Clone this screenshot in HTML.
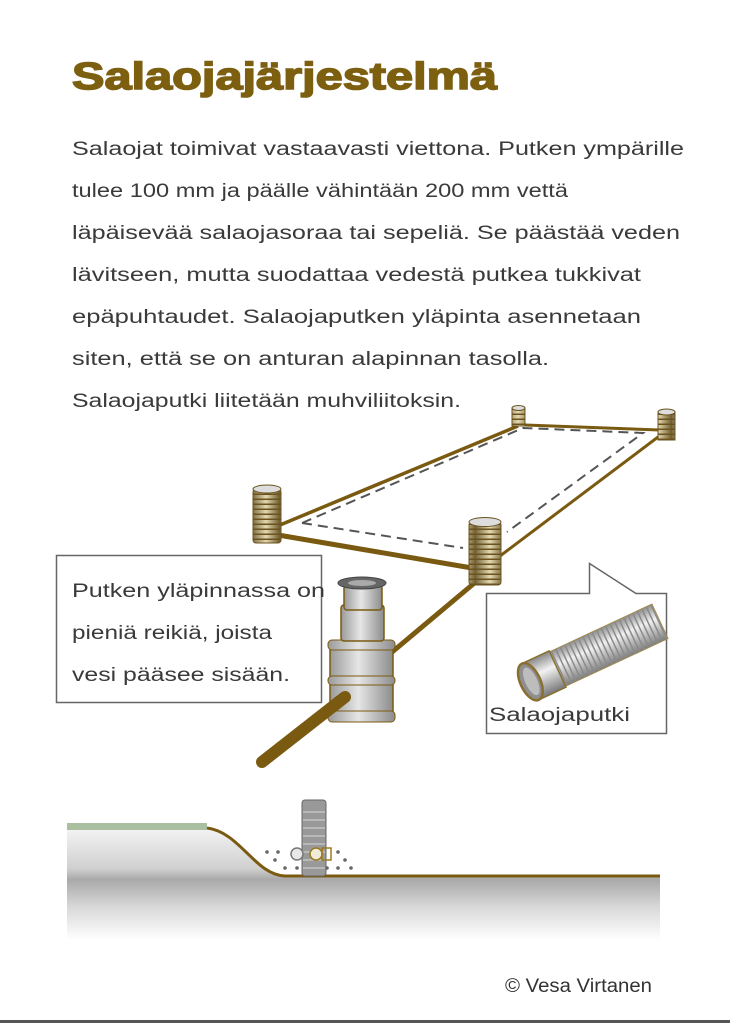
<!DOCTYPE html>
<html><head><meta charset="utf-8"><style>
html,body{margin:0;padding:0;background:#fff;width:730px;height:1023px;overflow:hidden}
svg{display:block}
.b{font-family:"Liberation Sans",sans-serif;font-size:19px;fill:#3a3a3a}
</style></head><body>
<svg width="730" height="1023" viewBox="0 0 730 1023" xmlns="http://www.w3.org/2000/svg">
<defs>
<linearGradient id="gnd" x1="0" y1="0" x2="0" y2="1">
<stop offset="0" stop-color="#f2f2f2"/><stop offset="0.35" stop-color="#d0d0d0"/><stop offset="0.45" stop-color="#a9a9a9"/><stop offset="0.7" stop-color="#d8d8d8"/><stop offset="1" stop-color="#fff"/>
</linearGradient>
<linearGradient id="cyl" x1="0" y1="0" x2="1" y2="0">
<stop offset="0" stop-color="#9a9a9a"/><stop offset="0.45" stop-color="#e6e6e6"/><stop offset="1" stop-color="#8c8c8c"/>
</linearGradient>
<linearGradient id="pip" x1="0" y1="0" x2="1" y2="0">
<stop offset="0" stop-color="#7a6a40"/><stop offset="0.5" stop-color="#e3d8b0"/><stop offset="1" stop-color="#6d5b2a"/>
</linearGradient>
<linearGradient id="sil" x1="0" y1="0" x2="0" y2="1">
<stop offset="0" stop-color="#888"/><stop offset="0.4" stop-color="#f2f2f2"/><stop offset="1" stop-color="#777"/>
</linearGradient>
<pattern id="rib" width="28" height="5" patternUnits="userSpaceOnUse"><rect width="28" height="5" fill="url(#pip)"/><rect y="3.5" width="28" height="1.5" fill="#6b5320"/></pattern>
<pattern id="rib2" width="5" height="40" x="0" y="-20" patternUnits="userSpaceOnUse"><rect width="5" height="40" fill="url(#sil)"/><rect x="3" width="1.5" height="40" fill="#8a8a8a"/></pattern>
</defs>

<text x="72" y="89" font-family="Liberation Sans,sans-serif" font-weight="bold" font-size="38" fill="#7d5f10" textLength="425" lengthAdjust="spacingAndGlyphs" stroke="#7d5f10" stroke-width="1.5">Salaojajärjestelmä</text>

<text class="b" x="72" y="155" textLength="612" lengthAdjust="spacingAndGlyphs">Salaojat toimivat vastaavasti viettona. Putken ympärille</text>
<text class="b" x="72" y="197" textLength="496" lengthAdjust="spacingAndGlyphs">tulee 100 mm ja päälle vähintään 200 mm vettä</text>
<text class="b" x="72" y="239" textLength="608" lengthAdjust="spacingAndGlyphs">läpäisevää salaojasoraa tai sepeliä. Se päästää veden</text>
<text class="b" x="72" y="281" textLength="569" lengthAdjust="spacingAndGlyphs">lävitseen, mutta suodattaa vedestä putkea tukkivat</text>
<text class="b" x="72" y="323" textLength="569" lengthAdjust="spacingAndGlyphs">epäpuhtaudet. Salaojaputken yläpinta asennetaan</text>
<text class="b" x="72" y="365" textLength="477" lengthAdjust="spacingAndGlyphs">siten, että  se on anturan alapinnan tasolla.</text>
<text class="b" x="72" y="407" textLength="389" lengthAdjust="spacingAndGlyphs">Salaojaputki liitetään muhviliitoksin.</text>

<g stroke="#7a5a10" fill="none">
<line x1="280" y1="525" x2="518" y2="426" stroke-width="3.5"/>
<line x1="525" y1="425" x2="660" y2="430" stroke-width="3"/>
<line x1="662" y1="434" x2="500" y2="556" stroke-width="3"/>
<line x1="278" y1="535" x2="472" y2="568" stroke-width="5"/>
<line x1="478" y1="580" x2="385" y2="658" stroke-width="5"/>
</g>
<polyline points="302,523 523,428 643,433 507,532" fill="none" stroke="#555" stroke-width="2" stroke-dasharray="10,6"/>
<line x1="302" y1="523" x2="463" y2="548" stroke="#555" stroke-width="2" stroke-dasharray="10,6"/>

<rect x="512" y="408" width="13" height="18" fill="url(#rib)" stroke="#6b5320"/>
<ellipse cx="518.5" cy="408" rx="6.5" ry="2.5" fill="#ddd" stroke="#6b5320"/>
<rect x="658" y="412" width="17" height="28" fill="url(#rib)" stroke="#6b5320"/>
<ellipse cx="666.5" cy="412" rx="8.5" ry="3" fill="#ddd" stroke="#6b5320"/>
<rect x="253" y="489" width="28" height="54" fill="url(#rib)" stroke="#6b5320" rx="3"/>
<ellipse cx="267" cy="489" rx="14" ry="4" fill="#ddd" stroke="#6b5320"/>
<rect x="469" y="522" width="32" height="63" fill="url(#rib)" stroke="#6b5320" rx="3"/>
<ellipse cx="485" cy="522" rx="16" ry="4.5" fill="#ddd" stroke="#6b5320"/>

<rect x="56.5" y="555.5" width="265" height="147" fill="#fff" stroke="#666" stroke-width="1.5"/>
<text class="b" x="72" y="597" textLength="253" lengthAdjust="spacingAndGlyphs">Putken yläpinnassa on</text>
<text class="b" x="72" y="639" textLength="200" lengthAdjust="spacingAndGlyphs">pieniä reikiä, joista</text>
<text class="b" x="72" y="681" textLength="218" lengthAdjust="spacingAndGlyphs">vesi pääsee sisään.</text>

<rect x="330" y="643" width="63" height="78" fill="url(#cyl)" stroke="#7a5a10" stroke-width="1.5" rx="4"/>
<rect x="328" y="640" width="67" height="10" fill="url(#cyl)" stroke="#7a5a10" rx="4"/>
<rect x="328" y="676" width="67" height="9" fill="url(#cyl)" stroke="#7a5a10" rx="4"/>
<rect x="328" y="711" width="67" height="11" fill="url(#cyl)" stroke="#7a5a10" rx="4"/>
<rect x="341" y="605" width="43" height="36" fill="url(#cyl)" stroke="#7a5a10" stroke-width="1.5" rx="3"/>
<rect x="344" y="585" width="38" height="25" fill="url(#cyl)" stroke="#7a5a10" stroke-width="1.5" rx="3"/>
<ellipse cx="362" cy="583" rx="24" ry="6" fill="#666" stroke="#444"/>
<ellipse cx="362" cy="583" rx="14" ry="3" fill="#aaa"/>
<line x1="345" y1="697" x2="262" y2="762" stroke="#7a5a10" stroke-width="12" stroke-linecap="round"/>

<path d="M486.5,593.5 H589.5 V563.5 L636,593.5 H666.5 V733.5 H486.5 Z" fill="#fff" stroke="#666" stroke-width="1.5"/>
<g transform="translate(592,653) rotate(-25)">
<rect x="-40" y="-19" width="115" height="38" fill="url(#rib2)" stroke="#a08a50"/>
<rect x="-68" y="-20" width="30" height="40" fill="url(#sil)" stroke="#8a7030" stroke-width="1.5"/>
<ellipse cx="-68" cy="0" rx="10" ry="20" fill="#8f8f8f" stroke="#8a7030" stroke-width="2.5"/>
<ellipse cx="-67" cy="0" rx="6" ry="15" fill="#bdbdbd"/>
</g>
<text class="b" x="489" y="721" textLength="141" lengthAdjust="spacingAndGlyphs">Salaojaputki</text>

<path d="M67,830 H207 C240,832 255,875 285,876 H660 V940 H67 Z" fill="url(#gnd)"/>
<rect x="67" y="823" width="140" height="7" fill="#a9bfa0"/>
<path d="M207,828 C240,832 255,875 285,876 H660" fill="none" stroke="#7a5a10" stroke-width="3"/>
<rect x="302" y="800" width="24" height="76" fill="#999" stroke="#666" rx="3"/>
<g stroke="#ccc" stroke-width="1.2"><line x1="303" y1="812" x2="325" y2="812"/><line x1="303" y1="820" x2="325" y2="820"/><line x1="303" y1="828" x2="325" y2="828"/><line x1="303" y1="836" x2="325" y2="836"/><line x1="303" y1="844" x2="325" y2="844"/><line x1="303" y1="852" x2="325" y2="852"/><line x1="303" y1="860" x2="325" y2="860"/><line x1="303" y1="868" x2="325" y2="868"/></g>
<circle cx="297" cy="854" r="6" fill="#e8e8e8" stroke="#777" stroke-width="1.5"/>
<circle cx="316" cy="854" r="6" fill="#f0ecd8" stroke="#9a7a20" stroke-width="1.5"/>
<rect x="322" y="848" width="9" height="12" fill="none" stroke="#9a7a20" stroke-width="1.5"/>
<g fill="#666"><circle cx="267" cy="852" r="1.8"/><circle cx="278" cy="852" r="1.8"/><circle cx="275" cy="860" r="1.8"/><circle cx="285" cy="868" r="1.8"/><circle cx="297" cy="868" r="1.8"/><circle cx="338" cy="852" r="1.8"/><circle cx="345" cy="860" r="1.8"/><circle cx="327" cy="868" r="1.8"/><circle cx="338" cy="868" r="1.8"/><circle cx="351" cy="868" r="1.8"/></g>

<text x="505" y="992" font-family="Liberation Sans,sans-serif" font-size="19" fill="#333" textLength="147" lengthAdjust="spacingAndGlyphs">© Vesa Virtanen</text>
<rect x="0" y="1020" width="730" height="3" fill="#555"/>
</svg>
</body></html>
